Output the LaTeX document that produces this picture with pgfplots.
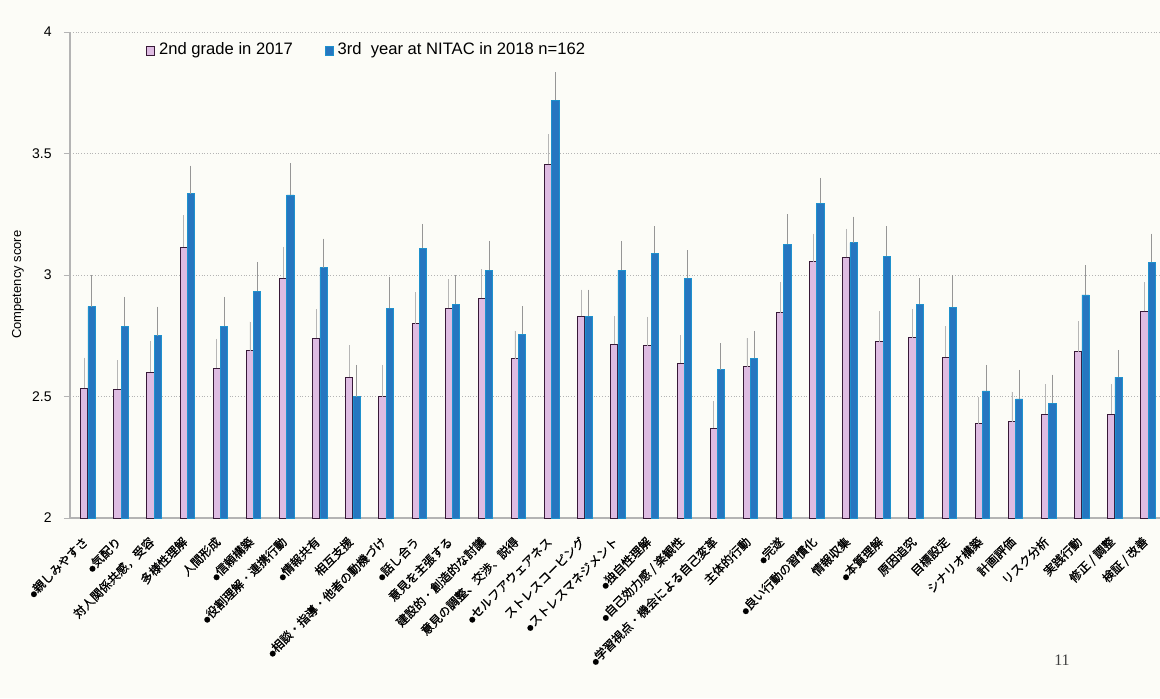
\documentclass[border=0pt]{standalone}
\usepackage{pgfplots}
\pgfplotsset{compat=1.18}
\usepackage{pgfplotstable}
\usepackage{fontspec}
\setmainfont{Liberation Sans}
\newfontfamily\cjk{Noto Sans CJK JP}[FakeBold=1]
\newfontfamily\serifnum{Liberation Serif}
\newcommand\bl{{\fontsize{3.2}{3.2}\selectfont ●}}
\definecolor{bgc}{RGB}{252,252,247}
\definecolor{pinkbar}{RGB}{222,188,226}
\definecolor{pinkedge}{RGB}{55,25,55}
\definecolor{bluebar}{RGB}{38,118,192}
\definecolor{gridc}{RGB}{180,180,180}
\definecolor{errc}{RGB}{150,150,150}

\pgfplotstableread{
x a ea b eb
0 2.535 0.125 2.87 0.13
1 2.53 0.12 2.79 0.12
2 2.60 0.13 2.75 0.12
3 3.115 0.13 3.335 0.115
4 2.617 0.12 2.79 0.12
5 2.688 0.12 2.934 0.12
6 2.986 0.13 3.33 0.13
7 2.74 0.12 3.03 0.12
8 2.58 0.13 2.50 0.13
9 2.50 0.13 2.863 0.13
10 2.80 0.13 3.11 0.10
11 2.863 0.12 2.88 0.12
12 2.904 0.12 3.02 0.12
13 2.655 0.115 2.757 0.115
14 3.455 0.125 3.72 0.115
15 2.83 0.11 2.83 0.11
16 2.715 0.115 3.02 0.12
17 2.708 0.12 3.09 0.11
18 2.637 0.115 2.986 0.115
19 2.37 0.11 2.61 0.11
20 2.623 0.117 2.658 0.112
21 2.845 0.125 3.126 0.124
22 3.055 0.115 3.295 0.105
23 3.073 0.117 3.133 0.107
24 2.726 0.124 3.078 0.122
25 2.742 0.118 2.88 0.106
26 2.662 0.128 2.867 0.133
27 2.387 0.113 2.523 0.107
28 2.397 0.123 2.49 0.12
29 2.428 0.122 2.473 0.117
30 2.685 0.125 2.918 0.122
31 2.428 0.122 2.58 0.11
32 2.85 0.12 3.052 0.118
}\data

\begin{document}
\begin{tikzpicture}
\fill[bgc] (-35pt,-90pt) rectangle (545pt,259pt);
\begin{axis}[
  at={(0,0)}, anchor=south west,
  scale only axis, width=545pt, height=243pt,
  xmin=-0.54, xmax=32.36, ymin=2, ymax=4,
  ytick={2,2.5,3,3.5,4},
  yticklabels={2,2.5,3,3.5,4},
  xtick={0,...,32},
  xticklabels={
    \bl 親しみやすさ, \bl 気配り, {対人関係共感，受容}, 多様性理解, 人間形成, \bl 信頼構築,
    \bl 役割理解・連携行動, \bl 情報共有, 相互支援, \bl 相談・指導・他者の動機づけ, \bl 話し合う,
    意見を主張する, 建設的・創造的な討議, {意見の調整、交渉、説得}, \bl セルフアウェアネス,
    ストレスコーピング, \bl ストレスマネジメント, \bl 独自性理解, \bl 自己効力感 / 楽観性,
    \bl 学習視点・機会による自己変革, 主体的行動, \bl 完遂, \bl 良い行動の習慣化, 情報収集,
    \bl 本質理解, 原因追究, 目標設定, シナリオ構築, 計画評価, リスク分析, 実践行動,
    修正 / 調整, 検証 / 改善},
  xticklabel style={rotate=45, anchor=east, font=\fontsize{6}{7}\selectfont\cjk, inner sep=1pt, yshift=-4.7pt, xshift=-5.1pt},
  yticklabel style={font=\fontsize{7}{8}\selectfont, inner sep=1pt, xshift=-5pt},
  major x tick style={draw=none},
  major y tick style={draw=gridc},
  major tick length=3pt,
  tick align=outside,
  ymajorgrids, grid style={gridc, densely dotted, line width=0.5pt},
  axis x line*=bottom, axis y line*=left,
  axis line style={gridc, line width=0.6pt},
  ylabel={Competency score},
  ylabel style={font=\fontsize{6.5}{7.5}\selectfont, at={(axis description cs:-0.0477,0.48)}, anchor=center},
  ybar=0pt, bar width=3.6pt,
  /pgf/number format/assume math mode=true,
  legend style={at={(0.064,0.995)}, anchor=north west, draw=none, fill=none,
     font=\fontsize{8.3}{9.3}\selectfont, legend columns=2,
     /tikz/every even column/.append style={column sep=14pt}},
  legend image code/.code={\draw[#1] (0pt,-2.5pt) rectangle (4pt,2pt);},
  error bars/y dir=plus, error bars/y explicit,
  error bars/error mark=none,
]
\addplot[fill=pinkbar, draw=pinkedge, line width=0.5pt,
  error bars/error bar style={errc!70, line width=0.4pt}]
  table[x=x, y=a, y error=ea]{\data};
\addplot[fill=bluebar, draw=bluebar!80!cyan, line width=0.3pt,
  error bars/error bar style={errc, line width=0.5pt}]
  table[x=x, y=b, y error=eb]{\data};
\legend{2nd grade in 2017, 3rd\ \ year at NITAC in 2018 n=162}
\end{axis}
\node[font=\fontsize{8}{9}\selectfont\serifnum, text=black!75] at (496pt,-71pt) {11};
\pgfresetboundingbox
\useasboundingbox (-35pt,-90pt) rectangle (545pt,259pt);
\end{tikzpicture}
\end{document}
